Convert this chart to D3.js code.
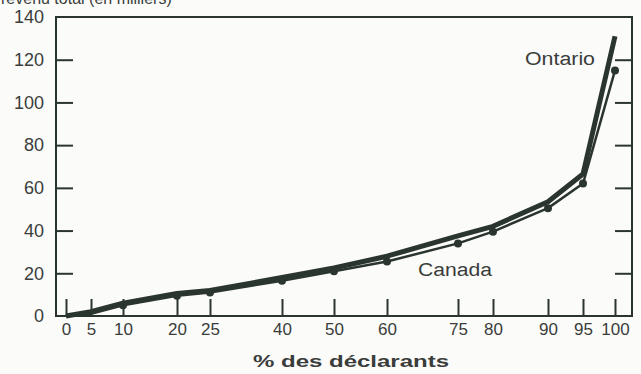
<!DOCTYPE html>
<html>
<head>
<meta charset="utf-8">
<script src="https://cdn.jsdelivr.net/npm/d3@7"></script>
<style>
  html, body { margin: 0; padding: 0; background: #fbfbf9; }
  svg { display: block; }
  text { font-family: "Liberation Sans", Arial, Helvetica, sans-serif; fill: #3a3d3b; }
</style>
</head>
<body>
<svg id="chart" width="641" height="374"></svg>
<script>
// ---- data ----
const xTickValues = [0, 5, 10, 20, 25, 40, 50, 60, 75, 80, 90, 95, 100];
const xTickLabels = ["0", "5", "10", "20", "25", "40", "50", "60", "75", "80", "90", "95", "100"];
const yTickValues = [0, 20, 40, 60, 80, 100, 120, 140];
const percentiles = [0, 5, 10, 20, 25, 40, 50, 60, 75, 80, 90, 95, 100];
const ontario = [0, 2, 6, 10.5, 12, 18, 22.5, 28, 37.5, 42, 53.5, 66.5, 131];
const canada  = [0, 1, 5, 9.5, 11, 16.5, 21, 25.5, 34, 39.5, 50.5, 62, 115];
const seriesNames = ["Ontario", "Canada"];
const yTitle = "revenu total (en milliers)";
const xTitle = "% des déclarants";

// ---- layout ----
const plotLeft = 56, plotRight = 632, plotTop = 17, plotBottom = 316;
// the printed axis is not evenly spaced: pixel position of each tick
const xTickPixels = [66, 91, 123, 177, 210, 282, 334, 387, 458, 493, 548, 583, 615];
const ink = "#2b352f";

const svg = d3.select("#chart");
const x = d3.scaleLinear().domain(xTickValues).range(xTickPixels);
const y = d3.scaleLinear().domain([0, 140]).range([plotBottom, plotTop]);

// frame
svg.append("rect")
  .attr("x", plotLeft).attr("y", plotTop)
  .attr("width", plotRight - plotLeft).attr("height", plotBottom - plotTop)
  .attr("fill", "none").attr("stroke", ink).attr("stroke-width", 2);

const innerY = yTickValues.filter(v => v > 0 && v < 140);
// y ticks left (inside)
svg.append("g").attr("transform", `translate(${plotLeft},0)`)
  .call(d3.axisRight(y).tickValues(innerY).tickSize(17).tickFormat(""))
  .call(g => g.select(".domain").remove())
  .call(g => g.selectAll("line").attr("stroke", ink).attr("stroke-width", 2));
// y ticks right (inside)
svg.append("g").attr("transform", `translate(${plotRight},0)`)
  .call(d3.axisLeft(y).tickValues(innerY).tickSize(17).tickFormat(""))
  .call(g => g.select(".domain").remove())
  .call(g => g.selectAll("line").attr("stroke", ink).attr("stroke-width", 2));
// y labels
svg.append("g").attr("transform", `translate(${plotLeft - 12},0)`)
  .call(d3.axisLeft(y).tickValues(yTickValues).tickSize(0).tickPadding(0))
  .call(g => g.select(".domain").remove())
  .call(g => g.selectAll("text").attr("font-size", 18).attr("fill", "#3a3d3b")
    .attr("font-family", "Liberation Sans, Arial, sans-serif"));

// x ticks (inside, upward)
svg.append("g").attr("transform", `translate(0,${plotBottom})`)
  .call(d3.axisTop(x).tickValues(xTickValues).tickSize(17).tickFormat(""))
  .call(g => g.select(".domain").remove())
  .call(g => g.selectAll("line").attr("stroke", ink).attr("stroke-width", 2));
// x labels
svg.append("g").attr("transform", `translate(0,${plotBottom + 7})`)
  .call(d3.axisBottom(x).tickValues(xTickValues).tickSize(0).tickPadding(0)
    .tickFormat((d, i) => xTickLabels[i]))
  .call(g => g.select(".domain").remove())
  .call(g => g.selectAll("text").attr("font-size", 17).attr("fill", "#3a3d3b")
    .attr("font-family", "Liberation Sans, Arial, sans-serif"));

// titles
svg.append("text").attr("x", 1).attr("y", 4).attr("font-size", 16).text(yTitle);
svg.append("text").attr("x", 253).attr("y", 367).attr("font-size", 17)
  .attr("font-weight", "bold").attr("textLength", 196).attr("lengthAdjust", "spacingAndGlyphs")
  .text(xTitle);

// lines
const line = d3.line().x((d, i) => x(percentiles[i])).y(d => y(d));
svg.append("path").datum(ontario).attr("d", line)
  .attr("fill", "none").attr("stroke", ink).attr("stroke-width", 5)
  .attr("stroke-linejoin", "round");
svg.append("path").datum(canada).attr("d", line)
  .attr("fill", "none").attr("stroke", ink).attr("stroke-width", 2.5)
  .attr("stroke-linejoin", "round");
svg.append("g").selectAll("circle").data(canada.slice(2)).join("circle")
  .attr("cx", (d, i) => x(percentiles[i + 2])).attr("cy", d => y(d)).attr("r", 4)
  .attr("fill", ink);

// series labels
svg.append("text").attr("x", 525).attr("y", 65).attr("font-size", 18)
  .attr("textLength", 70).attr("lengthAdjust", "spacingAndGlyphs").text(seriesNames[0]);
svg.append("text").attr("x", 418).attr("y", 276).attr("font-size", 18)
  .attr("textLength", 74).attr("lengthAdjust", "spacingAndGlyphs").text(seriesNames[1]);
</script>
</body>
</html>
